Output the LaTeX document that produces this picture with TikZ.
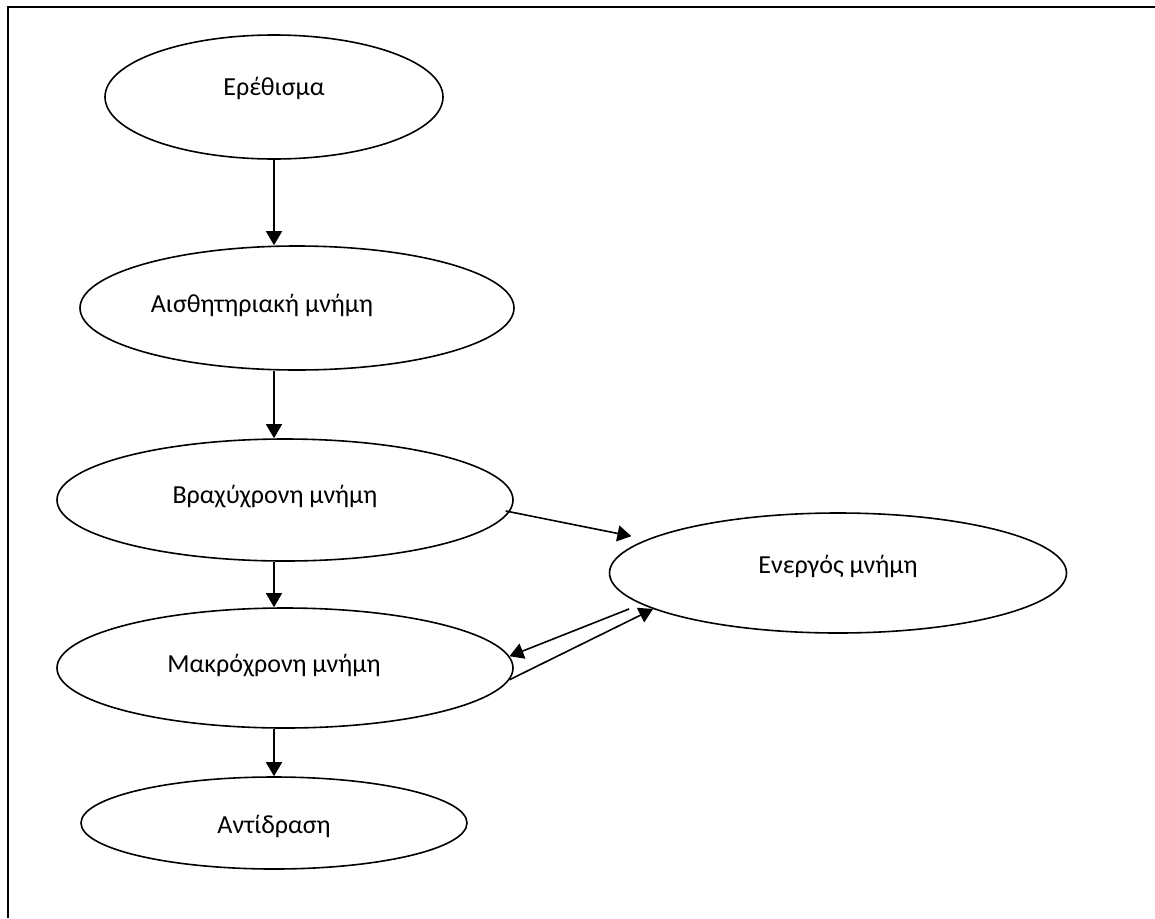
\documentclass[tikz,border=0pt]{standalone}
\usepackage{fontspec}
\setmainfont{Carlito}
\usetikzlibrary{shapes.geometric,arrows.meta}
\begin{document}
\begin{tikzpicture}[x=1pt,y=-1pt,
  mem/.style={draw, ellipse, line width=1.6pt, inner sep=0pt},
  lbl/.style={font=\fontsize{26}{30}\selectfont, inner sep=0pt, anchor=base},
  arr/.style={line width=1.6pt, -{Triangle[length=14pt,width=16pt]}}]
\useasboundingbox (0,0) rectangle (1155,918);
\draw[line width=1.8pt] (8,918) -- (8,7) -- (1155,7);
% ellipses
\node[mem, minimum width=338pt, minimum height=124pt] (e) at (274,97) {};
\node[mem, minimum width=434pt, minimum height=124pt] (a) at (297,308) {};
\node[mem, minimum width=456pt, minimum height=122pt] (b) at (285,500) {};
\node[mem, minimum width=456pt, minimum height=120pt] (m) at (285,668) {};
\node[mem, minimum width=386pt, minimum height=92pt] (r) at (274,823) {};
\node[mem, minimum width=457pt, minimum height=120pt] (n) at (838,573) {};
% texts
\node[lbl] (te) at (274,95) {Ερέθισμα};
\node[lbl] (ta) at (262,312) {Αισθητηριακή μνήμη};
\node[lbl] (tb) at (275,503) {Βραχύχρονη μνήμη};
\node[lbl] (tm) at (274,672) {Μακρόχρονη μνήμη};
\node[lbl] (tr) at (274,833) {Αντίδραση};
\node[lbl] (tn) at (838,573) {Ενεργός μνήμη};
% arrows
\draw[arr] (e.south) -- (e.south |- a.north);
\draw[arr] (a.south -| e.south) -- (e.south |- b.north);
\draw[arr] (b.south -| e.south) -- (e.south |- m.north);
\draw[arr] (m.south -| e.south) -- (e.south |- r.north);
\draw[arr, shorten <=-4pt, shorten >=16pt] (b.-3) -- (n.170);
\draw[arr, shorten <=13pt] (n.189.7) -- (m.3);
\draw[arr] (m.-3) -- (n.191);
\end{tikzpicture}
\end{document}
